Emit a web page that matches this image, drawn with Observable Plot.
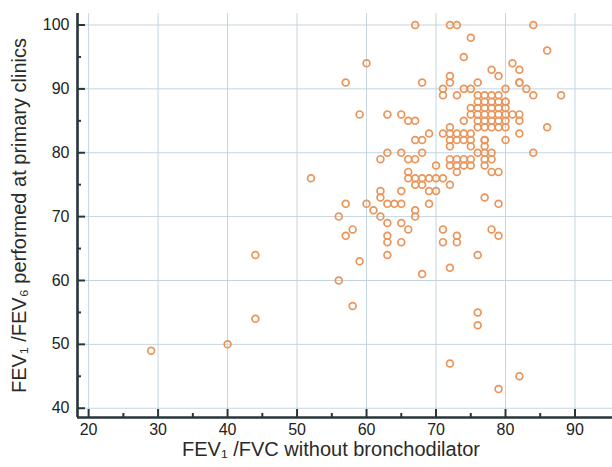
<!DOCTYPE html>
<html><head><meta charset="utf-8">
<script src="https://cdn.jsdelivr.net/npm/d3@7"></script>
<script src="https://cdn.jsdelivr.net/npm/@observablehq/plot@0.6"></script>
<style>body{margin:0;background:#fff;}</style>
</head><body><div id="chart"></div>
<script>
// FEV1/FVC without bronchodilator (x) and FEV1/FEV6 at primary clinics (y)
const fvcRatio = [
29,40,44,44,52,56,56,57,57,57,58,58,59,59,60,60,61,62,62,62,62,
63,63,63,63,63,63,63,64,65,65,65,65,65,65,66,66,66,66,66,
67,67,67,67,67,67,67,67,68,68,68,68,68,68,69,69,69,69,70,70,70,
71,71,71,71,71,71,72,72,72,72,72,72,72,72,72,72,72,72,
73,73,73,73,73,73,73,73,73,74,74,74,74,74,74,74,
75,75,75,75,75,75,75,75,75,76,76,76,76,76,77,77,77,77,77,77,77,
78,78,78,78,78,79,79,79,79,79,80,80,81,81,82,82,82,82,82,82,82,83,84,84,84,86,86,88,
76,77,78,79,80, 76,77,78,79,80, 76,77,78,79,80, 76,77,78,79,80, 76,77,78,79,80, 76,77,78,79,80,
75
];
const fev6Ratio = [
49,50,64,54,76,70,60,91,72,67,68,56,86,63,94,72,71,79,74,73,70,
86,80,72,69,67,66,64,72,86,80,74,72,69,66,85,79,77,76,68,
100,85,82,79,76,75,71,70,91,82,80,76,75,61,83,76,74,72,78,76,74,
90,89,83,76,68,66,100,91,84,83,82,81,79,78,75,62,47,
92,89,83,82,79,78,77,67,66,100,90,85,83,82,79,78,
95,90,86,83,82,81,79,78,87,98,80,64,55,53,91,82,81,80,79,78,73,
82,80,79,77,68,93,77,72,67,43,92,82,90,86,94,93,91,86,85,83,45,91,90,89,80,100,84,96,
89,89,89,89,89, 88,88,88,88,88, 87,87,87,87,87, 86,86,86,86,86, 85,85,85,85,85, 84,84,84,84,84,
88
];
const xMajorTicks = [20,30,40,50,60,70,80,90];
const xMinorTicks = [25,35,45,55,65,75,85];
const yMajorTicks = [40,50,60,70,80,90,100];
const yMinorTicks = [45,55,65,75,85,95];
const xDomain = [18.4, 95.4];
const yDomain = [38.55, 101.8];
const xLabel = "FEV\u2081 /FVC without bronchodilator";
const yLabel = "FEV\u2081 /FEV\u2086 performed at primary clinics";

const data = fvcRatio.map((x, i) => ({x, y: fev6Ratio[i]}));
const axisColor = "#26363a";

const chart = Plot.plot({
  width: 612, height: 467,
  marginLeft: 77, marginRight: 0, marginTop: 13, marginBottom: 50,
  x: {domain: xDomain},
  y: {domain: yDomain},
  style: {fontFamily: "'Liberation Sans', Arial, sans-serif", fontSize: "16px", color: "#2a2a2a", background: "#fff"},
  marks: [
    Plot.gridX(xMajorTicks, {stroke: "#c4d5df", strokeOpacity: 1, strokeWidth: 1}),
    Plot.gridY(yMajorTicks, {stroke: "#c4d5df", strokeOpacity: 1, strokeWidth: 1}),
    Plot.dot(data, {x: "x", y: "y", r: 3.4, stroke: "#e9955a", strokeWidth: 1.7, fill: "none"}),
    Plot.axisX(xMajorTicks, {anchor: "bottom", tickSize: -8, text: null, label: null, stroke: axisColor, strokeWidth: 2}),
    Plot.axisX(xMinorTicks, {anchor: "bottom", tickSize: -4, text: null, label: null, stroke: axisColor, strokeWidth: 2}),
    Plot.axisX(xMajorTicks, {anchor: "bottom", tickSize: 0, tickPadding: 6, label: null, fontSize: 16, fill: "#222"}),
    Plot.axisY(yMajorTicks, {anchor: "left", tickSize: -8, text: null, label: null, stroke: axisColor, strokeWidth: 2}),
    Plot.axisY(yMinorTicks, {anchor: "left", tickSize: -4, text: null, label: null, stroke: axisColor, strokeWidth: 2}),
    Plot.axisY(yMajorTicks, {anchor: "left", tickSize: 0, tickPadding: 8, label: null, fontSize: 16, fill: "#222"}),
    Plot.ruleX([xDomain[0]], {stroke: axisColor, strokeWidth: 2.6}),
    Plot.ruleY([yDomain[0]], {stroke: axisColor, strokeWidth: 2.6}),
    Plot.text([xLabel], {frameAnchor: "bottom", dy: 38, dx: -14, fontSize: 20, textAnchor: "middle", fill: "#2a2a2a"}),
    Plot.text([yLabel], {frameAnchor: "left", dx: -58, rotate: -90, fontSize: 20, textAnchor: "middle", fill: "#2a2a2a", letterSpacing: "0.4px"})
  ]
});
document.getElementById("chart").appendChild(chart);
</script>
</body></html>
